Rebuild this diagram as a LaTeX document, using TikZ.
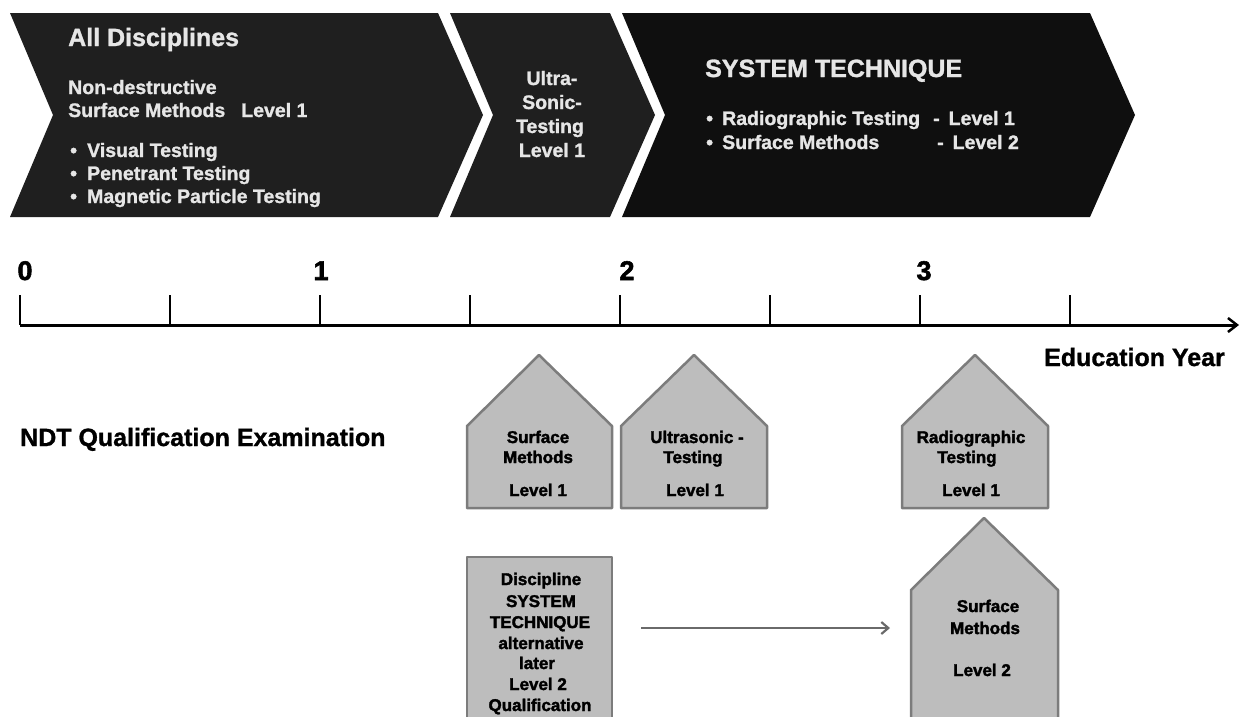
\documentclass[tikz,border=0pt]{standalone}
\usepackage{fontspec}
\setmainfont{Liberation Sans}
\newfontfamily\heavyfont[FakeBold=2]{Liberation Sans Bold}
\newfontfamily\midfont[FakeBold=1.2]{Liberation Sans Bold}
\usetikzlibrary{arrows.meta}
\definecolor{chevA}{HTML}{1F1F1F}
\definecolor{chevB}{HTML}{0F0F0F}
\definecolor{chevtxt}{HTML}{E6E6E6}
\definecolor{housefill}{HTML}{BDBDBD}
\definecolor{houseline}{HTML}{7C7C7C}
\definecolor{arrowgray}{HTML}{6A6A6A}
\begin{document}
\begin{tikzpicture}[x=1pt,y=-1pt,
  ctext/.style={text=chevtxt, inner sep=0, anchor=base west, font=\fontsize{19.5}{23}\selectfont\midfont},
  ctextc/.style={ctext, anchor=base},
  ctitle/.style={text=chevtxt, inner sep=0, anchor=base west, font=\fontsize{25}{30}\selectfont\midfont},
  housebox/.style={fill=housefill, draw=houseline, line width=2.5pt, line join=round},
  htext/.style={inner sep=0, anchor=base, font=\fontsize{17}{20}\selectfont\heavyfont},
  axislabel/.style={inner sep=0, anchor=base, font=\fontsize{27}{30}\selectfont\heavyfont},
  bigtext/.style={inner sep=0, font=\fontsize{25}{30}\selectfont\midfont},
  tickline/.style={line width=2pt},
]
\useasboundingbox (0,0) rectangle (1240,716);
\clip (0,0) rectangle (1240,716);

% ---------- chevrons ----------
\fill[chevA] (10,13) -- (438,13) -- (483,115) -- (438,217) -- (10,217) -- (53,115) -- cycle;
\fill[chevA] (450,13) -- (610,13) -- (655,115) -- (610,217) -- (450,217) -- (493,115) -- cycle;
\fill[chevB] (622,13) -- (1090,13) -- (1135,115) -- (1090,217) -- (622,217) -- (665,115) -- cycle;

% chevron 1 text
\node[ctitle] (t1) at (68,46) {All Disciplines};
\node[ctext] (t2) at (68,94) {Non-destructive};
\node[ctext] (t3) at (68,117) {Surface Methods\hspace{16pt}Level 1};
\node[ctext] (t4) at (70,157) {\makebox[17pt][l]{•}Visual Testing};
\node[ctext] (t5) at (70,180) {\makebox[17pt][l]{•}Penetrant Testing};
\node[ctext] (t6) at (70,203) {\makebox[17pt][l]{•}Magnetic Particle Testing};

% chevron 2 text
\node[ctextc] (u1) at (552,85) {Ultra-};
\node[ctextc] (u2) at (552,109) {Sonic-};
\node[ctextc] (u3) at (550,133) {Testing};
\node[ctextc] (u4) at (552,157) {Level 1};

% chevron 3 text
\node[ctitle] (s1) at (705,77) {SYSTEM TECHNIQUE};
\node[ctext] (s2) at (706,125) {\makebox[16pt][l]{•}Radiographic Testing};
\node[ctext] (s3) at (933,125) {-\hspace{9pt}Level 1};
\node[ctext] (s4) at (706,149) {\makebox[16pt][l]{•}Surface Methods};
\node[ctext] (s5) at (937,149) {-\hspace{9pt}Level 2};

% ---------- axis ----------
\coordinate (ax0) at (20,325);
\coordinate (axE) at (1239,325);
\foreach \i in {0,...,7} {
  \draw[tickline] (20+150*\i,295) -- (20+150*\i,325);
}
\draw[line width=3pt, -{Straight Barb[length=9pt,width=14pt,line width=2.5pt]}] (ax0) -- (axE);
\node[axislabel] (y0) at (25,280) {0};
\node[axislabel] (y1) at (321,280) {1};
\node[axislabel] (y2) at (627,280) {2};
\node[axislabel] (y3) at (924,280) {3};
\node[bigtext, anchor=base east] (edu) at (1225,366) {Education Year};

\node[bigtext, anchor=base west] (ndt) at (20,446) {NDT Qualification Examination};

% ---------- houses ----------
\draw[housebox] (467,508) -- (467,426) -- (539,355) -- (612,426) -- (612,508) -- cycle;
\draw[housebox] (621,508) -- (621,426) -- (694,355) -- (767,426) -- (767,508) -- cycle;
\draw[housebox] (902,508) -- (902,426) -- (975,355) -- (1048,426) -- (1048,508) -- cycle;
\draw[housebox] (911,740) -- (911,590) -- (984,518) -- (1058,590) -- (1058,740) -- cycle;
\draw[housebox] (467,740) -- (467,557) -- (612,557) -- (612,740) -- cycle;

\node[htext] (h1a) at (538,443) {Surface};
\node[htext] (h1b) at (538,463) {Methods};
\node[htext] (h1c) at (538,496) {Level 1};

\node[htext] (h2a) at (697,443) {Ultrasonic -};
\node[htext] (h2b) at (693,463) {Testing};
\node[htext] (h2c) at (695,496) {Level 1};

\node[htext] (h3a) at (971,443) {Radiographic};
\node[htext] (h3b) at (967,463) {Testing};
\node[htext] (h3c) at (971,496) {Level 1};

\node[htext] (h4a) at (988,612) {Surface};
\node[htext] (h4b) at (985,634) {Methods};
\node[htext] (h4c) at (982,676) {Level 2};

\node[htext] (r1) at (541,585) {Discipline};
\node[htext] (r2) at (541,607) {SYSTEM};
\node[htext] (r3) at (540,628) {TECHNIQUE};
\node[htext] (r4) at (541,649) {alternative};
\node[htext] (r5) at (537,669) {later};
\node[htext] (r6) at (538,690) {Level 2};
\node[htext] (r7) at (540,711) {Qualification};

% ---------- arrow ----------
\coordinate (arrS) at (641,628);
\coordinate (arrE) at (890,628);
\draw[arrowgray, line width=2.2pt, -{Straight Barb[length=7pt,width=12pt]}] (arrS) -- (arrE);
\end{tikzpicture}
\end{document}
